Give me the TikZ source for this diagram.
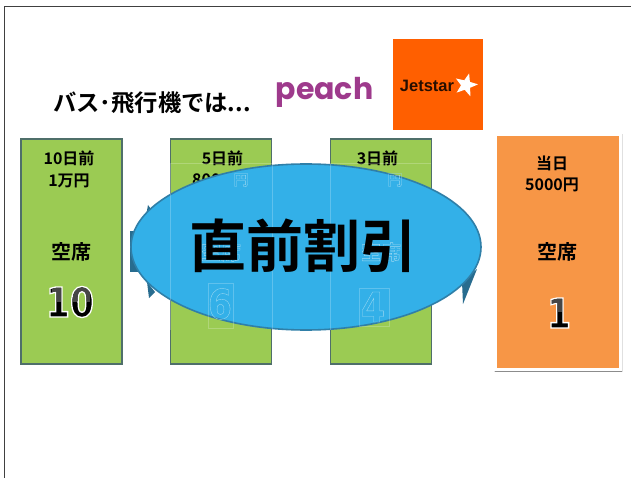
\documentclass[tikz,border=0pt]{standalone}
\usepackage{fontspec}
\setmainfont{Noto Sans CJK JP}[BoldFont={Noto Sans CJK JP Bold}]
\newfontfamily\lat{Liberation Sans}
\newfontfamily\logo{Poppins}
\newfontfamily\dig{DejaVu Sans}[FakeStretch=0.84]
\usetikzlibrary{shapes.geometric}
\definecolor{grn}{HTML}{9BCB53}
\definecolor{grnb}{HTML}{4F6F6A}
\definecolor{org}{HTML}{F79646}
\definecolor{sky}{HTML}{33B0E8}
\definecolor{skyb}{HTML}{2F7FA8}
\definecolor{jet}{HTML}{FF5F00}
\definecolor{pch}{HTML}{9E3A8C}
\newcommand{\outlined}[1]{\special{pdf:code q 2 Tr 1.3 w 1 1 1 RG 0 0 0 rg}#1\special{pdf:code Q}}
\newcommand{\ghosted}[1]{\special{pdf:code q 1 Tr 0.35 w 0.62 0.85 0.95 RG}#1\special{pdf:code Q}}
\tikzset{
 x=1pt,y=-1pt,
 card/.style={draw=grnb,line width=1.1pt,fill=grn,minimum width=101pt,minimum height=225pt,inner sep=0pt},
 hot/.style={draw=white,line width=3pt,fill=org,minimum width=125pt,minimum height=235pt,inner sep=0pt},
 lbl/.style={font=\bfseries\fontsize{16}{21.5}\selectfont,align=center,inner sep=0pt,text=black},
 seat/.style={font=\bfseries\fontsize{20}{20}\selectfont,inner sep=0pt},
 num/.style={font=\dig\bfseries\fontsize{41}{41}\selectfont,inner sep=0pt},
 big/.style={font=\bfseries\fontsize{57}{57}\selectfont,inner sep=0pt,text=black},
 disc/.style={ellipse,draw=skyb,line width=1.6pt,fill=sky,minimum width=350pt,minimum height=166pt,inner sep=0pt},
 spike/.style={fill=skyb!85!black,draw=none},
 seam/.style={draw=white,opacity=.22,line width=.6pt},
}
\begin{document}
\begin{tikzpicture}
\useasboundingbox (0,0) rectangle (631,478);
\fill[white] (0,0) rectangle (631,478);
\draw[black!75,line width=1pt] (4.5,478) -- (4.5,6.5) -- (631,6.5);
% title and logos
\node[font=\bfseries\fontsize{23.3}{23}\selectfont,anchor=west,inner sep=0pt] (title) at (53,103) {バス･飛行機では...};
\node[font=\logo\bfseries\fontsize{30}{30}\selectfont,text=pch,inner sep=0pt] (peach) at (324.5,92) {peach};
\node[fill=jet,minimum width=90pt,minimum height=91pt,inner sep=0pt] (jetbox) at (438,84.5) {};
\node[font=\lat\bfseries\fontsize{16.5}{15}\selectfont,text=black!85!jet,inner sep=0pt] (jetname) at (427,86) {Jetstar};
\node[star,star points=5,star point ratio=2.4,rotate=-15,fill=white,minimum size=24pt,inner sep=0pt] (jetstar) at (466,85) {};
% cards
\node[card] (a) at (71.5,251.5) {};
\node[card] (b) at (221,251.5) {};
\node[card] (c) at (381,251.5) {};
\fill[black!12] (493.5,134) rectangle (622.5,372);
\fill[black!45] (495,368) rectangle (622,372);
\node[hot] (d) at (558,252) {};
\node[lbl] (a1) at (69,169.5) {10日前\\1万円};
\node[lbl] (b1) at (222.5,158.5) {5日前};
\node[lbl] (c1) at (377.5,158.5) {3日前};
\node[lbl] (d1) at (552,174) {当日\\5000円};
\node[seat] (a2) at (71,252) {空席};
\node[seat] (d2) at (557,252) {空席};
\node[font=\bfseries\fontsize{16}{16}\selectfont,inner sep=0pt] (b2) at (219,180) {8000円};
\node[num] (a3) at (70,302) {\outlined{10}};
\node[num] (d3) at (559,313) {\outlined{1}};
% upper half of the numerals is lighter
\fill[blend mode=lighten,fill={rgb,255:red,70;green,70;blue,70}] (52,287) rectangle (90,302);
\fill[blend mode=lighten,fill={rgb,255:red,70;green,70;blue,70}] (552,297) rectangle (566,312);
% connector remains behind the oval
\fill[spike] (130,231) rectangle (140,272);
\fill[spike] (148,205) -- (146,216) -- (153,212) -- cycle;
\fill[spike] (149,298) -- (147,282) -- (155,292) -- cycle;
\fill[spike] (463,304) -- (462,282) -- (477,269) -- cycle;
% oval
\node[disc] (o) at (306,247) {};
% seams and ghosts showing through the oval
\draw[seam] (170,163.5) -- (272,163.5);
\draw[seam] (330,163.5) -- (431,163.5);
\draw[seam] (170.5,164) -- (170.5,330);
\draw[seam] (272.5,164) -- (272.5,330);
\draw[seam] (330.5,164) -- (330.5,330);
\draw[seam] (208,283) rectangle (233,328);
\draw[seam] (359,288) rectangle (389,326);
\node[seat] (g1) at (221,252) {\ghosted{空席}};
\node[seat] (g2) at (381,252) {\ghosted{空席}};
\node[num] (g3) at (220,304) {\ghosted{6}};
\node[num] (g4) at (373,307) {\ghosted{4}};
\node[font=\bfseries\fontsize{15}{15}\selectfont,inner sep=0pt] (g5) at (241,180) {\ghosted{円}};
\node[font=\bfseries\fontsize{15}{15}\selectfont,inner sep=0pt] (g6) at (395,180) {\ghosted{円}};
\node[big] (t) at (303.5,246) {直前割引};
\end{tikzpicture}
\end{document}
